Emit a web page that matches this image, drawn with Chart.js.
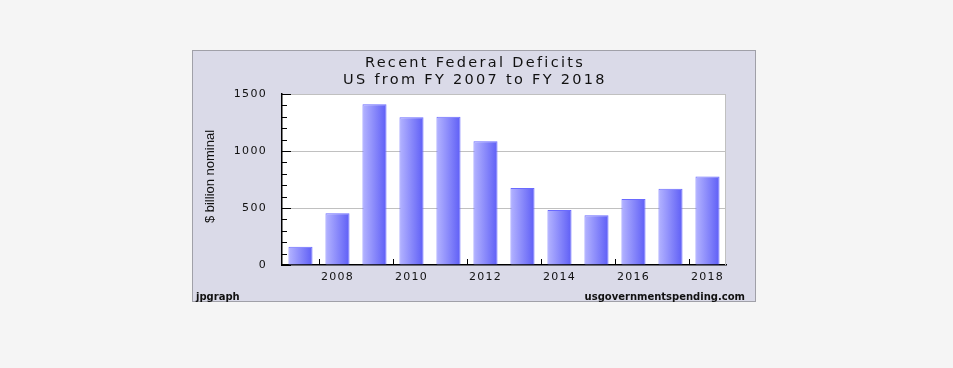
<!DOCTYPE html>
<html>
<head>
<meta charset="utf-8">
<script src="https://cdn.jsdelivr.net/npm/chart.js@4"></script>
<style>
    html, body { margin: 0; padding: 0; background: #f5f5f5; }
    #wrap { position: absolute; left: 192px; top: 50px; width: 564px; height: 252px; }
</style>
</head>
<body>
<div id="wrap"><canvas id="deficits"></canvas></div>
<script>
// values ($ billion nominal)
const years = ['2007', '2008', '2009', '2010', '2011', '2012', '2013', '2014', '2015', '2016', '2017', '2018'];
const deficits = [160, 455, 1410, 1295, 1300, 1085, 675, 483, 437, 578, 668, 777];
const titleLines = ['Recent Federal Deficits', 'US from FY 2007 to FY 2018'];
const yTitle = '$ billion nominal';
const footLeft = 'jpgraph';
const footRight = 'usgovernmentspending.com';
const yMin = 0, yMax = 1500, yStep = 500, yMinorStep = 100;

const frame = {
    id: 'frame',
    beforeDraw(chart) {
        const ctx = chart.ctx;
        const w = chart.width, h = chart.height;
        ctx.letterSpacing = '1.3px';
        ctx.save();
        ctx.fillStyle = '#dadae8';
        ctx.fillRect(0, 0, w, h);
        ctx.strokeStyle = '#a0a0a8';
        ctx.lineWidth = 1;
        ctx.strokeRect(0.5, 0.5, w - 1, h - 1);
        ctx.fillStyle = '#ffffff';
        const a = chart.chartArea;
        ctx.fillRect(a.left, a.top, a.right - a.left, a.bottom - a.top);

        // title
        ctx.fillStyle = '#111';
        ctx.textAlign = 'center';
        ctx.textBaseline = 'middle';
        ctx.letterSpacing = '2.3px';
        ctx.font = '14.5px "DejaVu Sans"';
        ctx.fillText(titleLines[0], w / 2 + 1, 13);
        ctx.fillText(titleLines[1], w / 2 + 1, 30);

        // footers
        ctx.letterSpacing = '0px';
        ctx.font = 'bold 10px "DejaVu Sans"';
        ctx.textAlign = 'left';
        ctx.fillText(footLeft, 4, h - 5);
        ctx.textAlign = 'right';
        ctx.fillText(footRight, w - 11, h - 5);

        // y axis title
        ctx.translate(18, (a.top + a.bottom) / 2 - 3);
        ctx.rotate(-Math.PI / 2);
        ctx.textAlign = 'center';
        ctx.font = '13px "Liberation Sans Narrow", "Liberation Sans"';
        ctx.fillText(yTitle, 0, 0);
        ctx.restore();
    },
    afterDatasetsDraw(chart) {
        const ctx = chart.ctx;
        const a = chart.chartArea;
        const y = chart.scales.y, x = chart.scales.x;
        ctx.save();
        // right border of plot
        ctx.strokeStyle = '#c0c0c0';
        ctx.lineWidth = 1;
        ctx.beginPath();
        ctx.moveTo(a.right - 0.5, a.top);
        ctx.lineTo(a.right - 0.5, a.bottom);
        ctx.stroke();
        // inner ticks on y
        ctx.strokeStyle = '#000';
        ctx.beginPath();
        for (let v = yMin; v <= yMax; v += yMinorStep) {
            const py = Math.round(y.getPixelForValue(v)) + 0.5;
            const len = v % yStep === 0 ? 9 : 5;
            ctx.moveTo(a.left, py);
            ctx.lineTo(a.left + len, py);
        }
        // inner ticks on x, at the left edge of each labelled year
        const half = (x.getPixelForValue(1) - x.getPixelForValue(0)) / 2;
        years.forEach((yr, i) => {
            if (i > 0 && parseInt(yr) % 2 === 0) {
                const px = Math.round(x.getPixelForValue(i) - half) + 0.5;
                ctx.moveTo(px, a.bottom);
                ctx.lineTo(px, a.bottom - 6);
            }
        });
        ctx.stroke();
        ctx.restore();
    }
};

function barFill(c) {
    const chart = c.chart;
    if (!chart.chartArea || !chart.scales.x) return '#8888ff';
    const xs = chart.scales.x;
    const cx = xs.getPixelForValue(c.dataIndex);
    const bw = (xs.width / years.length) * 0.65;
    const g = chart.ctx.createLinearGradient(cx - bw / 2, 0, cx + bw / 2, 0);
    g.addColorStop(0, '#b4b4ff');
    g.addColorStop(1, '#5e5ef6');
    return g;
}

new Chart(document.getElementById('deficits'), {
    type: 'bar',
    data: {
        labels: years,
        datasets: [{
            label: 'Deficit',
            data: deficits,
            backgroundColor: barFill,
            borderColor: '#6a6aff',
            borderWidth: 1,
            barPercentage: 0.65,
            categoryPercentage: 1
        }]
    },
    plugins: [frame],
    options: {
        responsive: true,
        maintainAspectRatio: false,
        animation: false,
        layout: { padding: { top: 44, left: 0, right: 30, bottom: 0 } },
        plugins: {
            legend: { display: false },
            title: { display: false },
            tooltip: { enabled: false }
        },
        scales: {
            x: {
                offset: true,
                grid: { drawOnChartArea: false, drawTicks: false },
                border: { color: '#000', width: 1.5 },
                ticks: {
                    autoSkip: false,
                    maxRotation: 0,
                    padding: 6,
                    color: '#111',
                    font: { family: 'DejaVu Sans', size: 11 },
                    callback: function (v, i) {
                        return parseInt(years[i]) % 2 === 0 ? years[i] : '';
                    }
                },
                afterFit(s) { s.height = 37; }
            },
            y: {
                min: yMin,
                max: yMax,
                grid: {
                    drawTicks: false,
                    color: c => c.tick && c.tick.value === 0 ? 'rgba(0,0,0,0)' : '#c0c0c0'
                },
                border: { color: '#000', width: 1.5 },
                ticks: {
                    stepSize: yStep,
                    padding: 15,
                    color: '#111',
                    font: { family: 'DejaVu Sans', size: 11 },
                    callback: v => String(v)
                },
                afterFit(s) { s.width = 90; }
            }
        }
    }
});
</script>
</body>
</html>
